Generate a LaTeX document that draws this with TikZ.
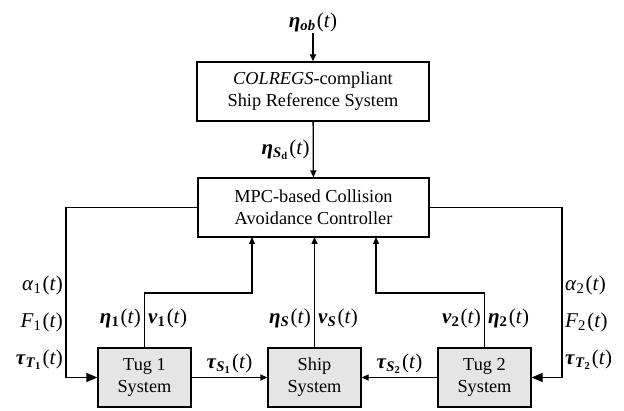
\documentclass[tikz,border=0pt]{standalone}
\usepackage{amsmath}
\usepackage{fontspec}
\setmainfont{Liberation Serif}
\usetikzlibrary{arrows.meta}
\newcommand{\bi}[1]{\textbf{\textit{#1}}}
\newcommand{\ofT}{\kern1.2pt(\textit{t})}
\begin{document}
\begin{tikzpicture}[x=1pt,y=-1pt,
  box/.style={draw,line width=1.3pt,minimum width=#1,minimum height=59pt,align=center,inner sep=0pt,font=\fontsize{18.3}{22}\selectfont},
  sys/.style={box=93pt,fill=black!10},
  lab/.style={inner sep=1pt,font=\fontsize{21}{24}\selectfont},
  conn/.style={line width=1.3pt},
  arr/.style={conn,-{Triangle[length=7pt,width=6pt]}},
  bigarr/.style={conn,-{Triangle[length=11pt,width=9pt]}}]
\useasboundingbox (0,0) rectangle (624,411);
\node[box=232pt] (top) at (313,91.5) {\textit{COLREGS}-compliant\\Ship Reference System};
\node[box=231pt] (mpc) at (313.5,207.5) {MPC-based Collision\\Avoidance Controller};
\node[sys] (tug1) at (144.5,377.5) {Tug 1\\System};
\node[sys] (ship) at (314.5,377.5) {Ship\\System};
\node[sys] (tug2) at (484.5,377.5) {Tug 2\\System};
\node[lab,anchor=south] (obs) at (313,33) {\bi{η}$_{\bi{ob}}$\ofT};
\draw[arr] (obs) -- (top);
\draw[arr] (top) -- node[lab,left=2pt] {\bi{η}$_{\bi{S}_{\textbf{d}}}$\ofT} (mpc);
% feedback lines to tugs
\coordinate (l1) at (66,207.5);
\coordinate (l2) at (66,377.5);
\draw[bigarr] (mpc.west) -- (l1) -- (l2) -- (tug1.west);
\coordinate (r1) at (562,207.5);
\coordinate (r2) at (562,377.5);
\draw[bigarr] (mpc.east) -- (r1) -- (r2) -- (tug2.east);
\node[lab,anchor=east] (a1) at (64,285) {\textit{α}$_{\textup{1}}$\ofT};
\node[lab,anchor=east] (f1) at (64,322) {\textit{F}$_{\textup{1}}$\ofT};
\node[lab,anchor=east] (t1) at (64,360) {\bi{τ}$_{\bi{T}_{\textbf{1}}}$\ofT};
\node[lab,anchor=west] (a2) at (564,285) {\textit{α}$_{\textup{2}}$\ofT};
\node[lab,anchor=west] (f2) at (564,322) {\textit{F}$_{\textup{2}}$\ofT};
\node[lab,anchor=west] (t2) at (564,360) {\bi{τ}$_{\bi{T}_{\textbf{2}}}$\ofT};
% feedback to MPC
\coordinate (u1a) at (144.5,293);
\coordinate (u1b) at (252,293);
\coordinate (m1) at (252,237);
\draw[arr] (tug1.north) -- (u1a) -- (u1b) -- (m1);
\coordinate (m0) at (314.5,237);
\draw[arr] (ship.north) -- (m0);
\coordinate (u2a) at (484.5,293);
\coordinate (u2b) at (376,293);
\coordinate (m2) at (376,237);
\draw[arr] (tug2.north) -- (u2a) -- (u2b) -- (m2);
\node[lab,anchor=east] (e1) at (142,318) {\bi{η}$_{\textbf{1}}$\ofT};
\node[lab,anchor=west] (v1) at (147,318) {\bi{v}$_{\textbf{1}}$\ofT};
\node[lab,anchor=east] (es) at (312,318) {\bi{η}$_{\bi{S}}$\ofT};
\node[lab,anchor=west] (vs) at (317,318) {\bi{v}$_{\bi{S}}$\ofT};
\node[lab,anchor=east] (v2) at (482,318) {\bi{v}$_{\textbf{2}}$\ofT};
\node[lab,anchor=west] (e2) at (487,318) {\bi{η}$_{\textbf{2}}$\ofT};
% tugs to ship
\draw[arr] (tug1.east) -- node[lab,above=2pt] {\bi{τ}$_{\bi{S}_{\textbf{1}}}$\ofT} (ship.west);
\draw[arr] (tug2.west) -- node[lab,above=2pt] {\bi{τ}$_{\bi{S}_{\textbf{2}}}$\ofT} (ship.east);
\end{tikzpicture}
\end{document}
